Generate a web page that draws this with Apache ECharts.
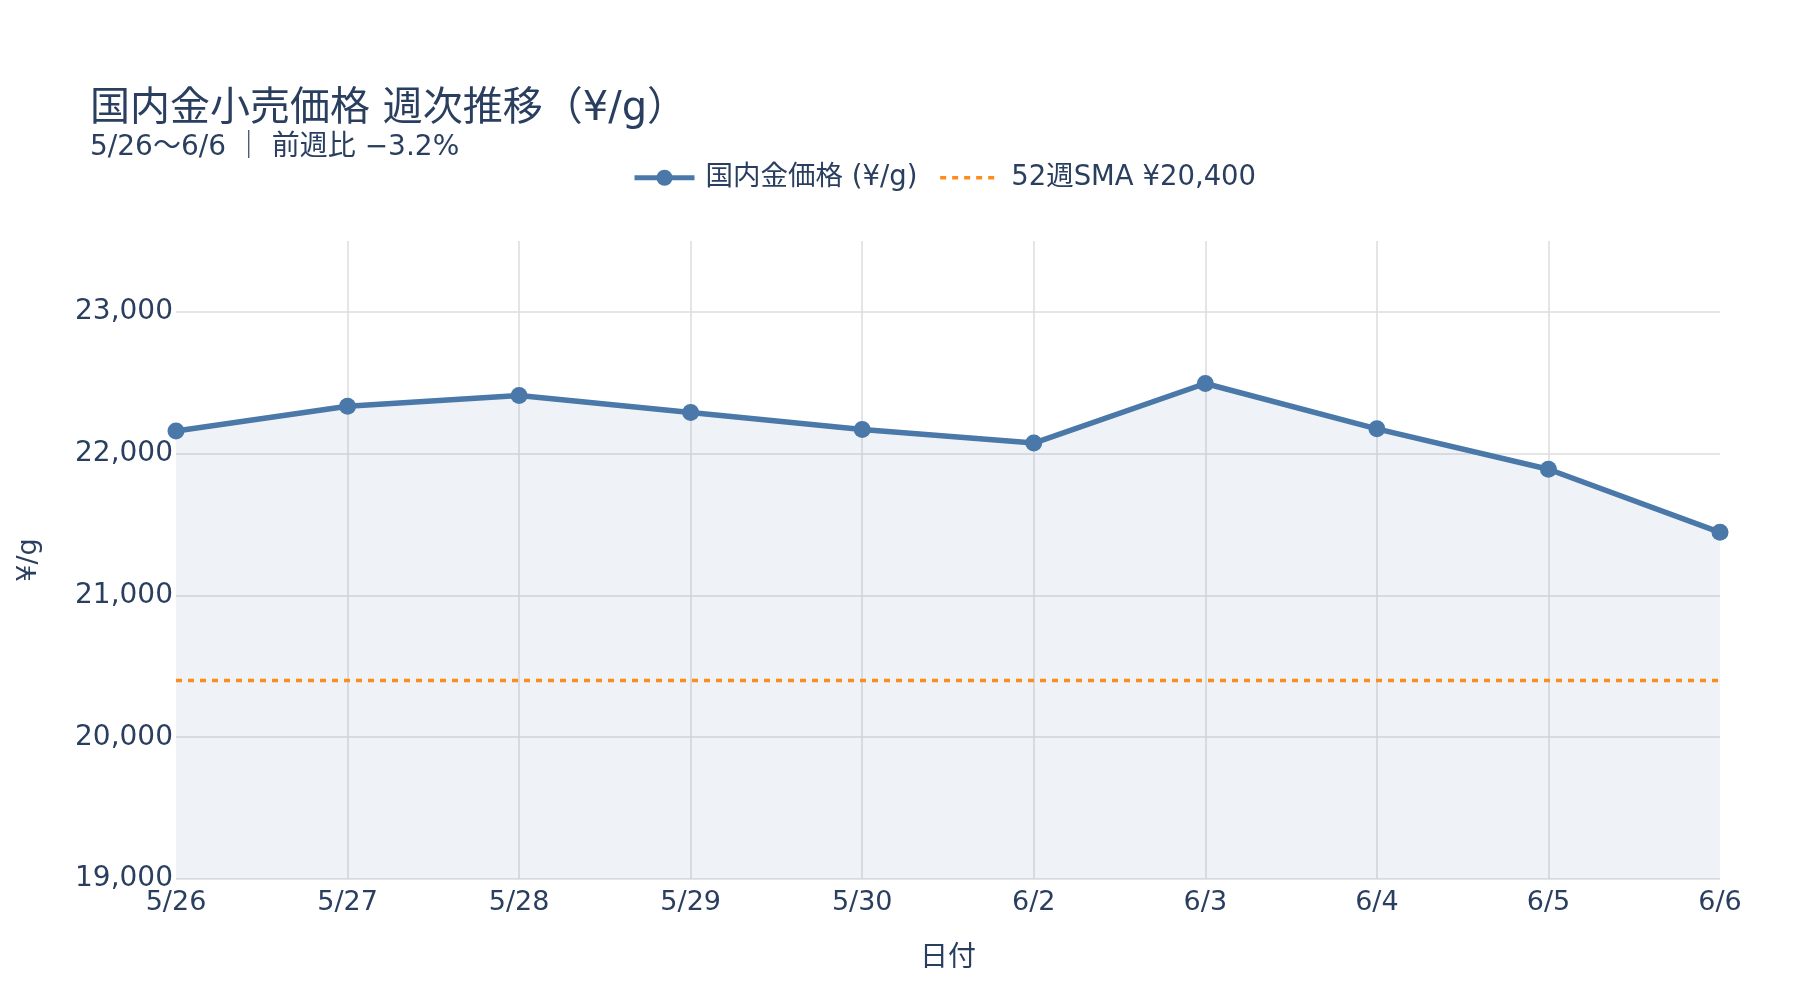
<!DOCTYPE html>
<html>
<head>
<meta charset="utf-8">
<script src="https://cdn.jsdelivr.net/npm/echarts@6/dist/echarts.min.js"></script>
<style>
html,body{margin:0;padding:0;background:#fff;}
#chart{width:1800px;height:1000px;}
</style>
</head>
<body>
<div id="chart"></div>
<script>
const categories = ['5/26','5/27','5/28','5/29','5/30','6/2','6/3','6/4','6/5','6/6'];
const prices = [22160, 22335, 22410, 22290, 22170, 22075, 22495, 22175, 21890, 21445];
const smaValue = 20400;
const yMin = 19000, yMax = 23500, yStep = 1000;
const titleText = '国内金小売価格 週次推移（¥/g）';
const subText = '5/26〜6/6 ｜ 前週比 −3.2%';
const priceName = '国内金価格 (¥/g)';
const smaName = '52週SMA ¥20,400';

const FONT = "'DejaVu Sans', 'Noto Sans CJK JP', sans-serif";
const TXT = '#2a3f5f';
const BLUE = '#4a78a8';
const ORANGE = '#ff8c1a';
const chart = echarts.init(document.getElementById('chart'), null, {renderer: 'canvas'});
chart.setOption({
  animation: false,
  backgroundColor: '#ffffff',
  textStyle: {fontFamily: FONT, color: TXT},
  title: {
    text: titleText,
    subtext: subText,
    left: 90,
    top: 90,
    padding: 0,
    itemGap: 4,
    textStyle: {fontFamily: FONT, fontSize: 40, fontWeight: 'normal', color: TXT},
    subtextStyle: {fontFamily: FONT, fontSize: 28, color: TXT}
  },
  legend: {
    left: 627,
    top: 159,
    itemWidth: 60,
    itemHeight: 20,
    itemGap: 21,
    data: [
      {name: priceName, lineStyle: {width: 5}},
      {name: smaName, itemStyle: {color: 'rgba(0,0,0,0)', opacity: 0, borderWidth: 0}, lineStyle: {width: 3.5}}
    ],
    textStyle: {fontFamily: FONT, fontSize: 27.5, color: TXT, padding: [0,0,0,6]}
  },
  grid: {left: 176, right: 80, top: 241, bottom: 121, containLabel: false},
  xAxis: {
    type: 'category',
    data: categories,
    boundaryGap: false,
    name: '日付',
    nameLocation: 'middle',
    nameGap: 66,
    nameTextStyle: {fontFamily: FONT, fontSize: 28, color: TXT},
    axisLine: {show: false},
    axisTick: {show: false},
    axisLabel: {fontFamily: FONT, fontSize: 27, color: TXT, margin: 10},
    splitLine: {show: true, showMinLine: false, showMaxLine: false, lineStyle: {color: '#dcdcdc', width: 1.5}}
  },
  yAxis: {
    type: 'value',
    min: yMin,
    max: yMax,
    interval: yStep,
    name: '¥/g',
    nameLocation: 'middle',
    nameGap: 134,
    nameRotate: 90,
    nameTextStyle: {fontFamily: FONT, fontSize: 27, color: TXT},
    axisLine: {show: false},
    axisTick: {show: false},
    axisLabel: {
      fontFamily: FONT, fontSize: 28, color: TXT, margin: 3,
      showMaxLabel: false,
      formatter: v => v > 23000 ? '' : v.toLocaleString('en-US')
    },
    splitLine: {show: true, showMaxLine: false, lineStyle: {color: '#dcdcdc', width: 1.5}}
  },
  series: [
    {
      name: priceName,
      type: 'line',
      data: prices,
      clip: true,
      symbol: 'circle',
      symbolSize: 17,
      showSymbol: true,
      itemStyle: {color: BLUE},
      lineStyle: {color: BLUE, width: 5.5},
      areaStyle: {color: 'rgba(74,120,168,0.13)', origin: 'start'},
      z: 3
    },
    {
      name: smaName,
      type: 'line',
      data: categories.map(() => smaValue),
      symbol: 'none',
      itemStyle: {color: ORANGE},
      lineStyle: {color: ORANGE, width: 3.5, type: [6, 6]},
      z: 4
    }
  ]
});
</script>
</body>
</html>
